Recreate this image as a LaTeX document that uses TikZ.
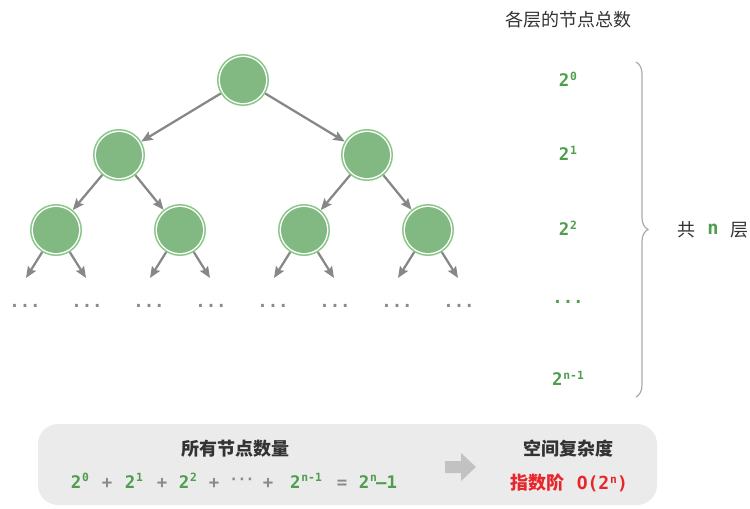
\documentclass[tikz,border=0pt]{standalone}
\usepackage{fontspec}
\setmainfont{Noto Sans CJK SC}
\newfontfamily\cjk{Noto Sans CJK SC}
\newfontfamily\mono{DejaVu Sans Mono}
\usetikzlibrary{arrows.meta,decorations.pathreplacing}
\definecolor{nodegreen}{HTML}{82B982}
\definecolor{ringgreen}{HTML}{8CC88C}
\definecolor{txtgreen}{HTML}{4E9E4E}
\definecolor{edgegray}{HTML}{878787}
\definecolor{dotgray}{HTML}{8A8A8A}
\definecolor{txtdark}{HTML}{333333}
\definecolor{boxgray}{HTML}{EBEBEB}
\definecolor{arrgray}{HTML}{C2C2C2}
\definecolor{bracegray}{HTML}{AAAAAA}
\definecolor{txtred}{HTML}{E8262A}
\newcommand\sps[1]{\kern0.05em\raisebox{0.36em}{\fontsize{8.5}{9}\selectfont #1}}
\begin{document}
\begin{tikzpicture}[x=0.75pt,y=-0.75pt,
  tn/.style={circle, draw=ringgreen, line width=1.125pt, fill=white,
    minimum size=37.9pt, inner sep=0pt,
    path picture={\fill[nodegreen] (path picture bounding box.center) circle (17.25pt);}},
  edg/.style={draw=edgegray, line width=1.7pt, -{Stealth[length=8.5pt,width=7pt,inset=1.5pt]}},
  leafdots/.style={font=\mono\bfseries\fontsize{13}{13}\selectfont, text=dotgray, inner sep=0pt},
  head/.style={font=\cjk\fontsize{13.5}{14}\selectfont, text=txtdark, inner sep=0pt},
  headb/.style={font=\cjk\bfseries\fontsize{13.5}{14}\selectfont, text=txtdark, inner sep=0pt},
  lvl/.style={font=\mono\bfseries\fontsize{13}{14}\selectfont, text=txtgreen, inner sep=0pt},
  frm/.style={font=\mono\bfseries\fontsize{13}{14}\selectfont, inner sep=0pt, anchor=base},
]
\useasboundingbox (0,0) rectangle (750,508);
% tree
\node[tn] (r) at (243,80) {};
\node[tn] (a) at (119,155) {};
\node[tn] (b) at (367,155) {};
\node[tn] (a1) at (56,230) {};
\node[tn] (a2) at (180,230) {};
\node[tn] (b1) at (304,230) {};
\node[tn] (b2) at (428,230) {};
\draw[edg] (r) -- (a);
\draw[edg] (r) -- (b);
\draw[edg] (a) -- (a1);
\draw[edg] (a) -- (a2);
\draw[edg] (b) -- (b1);
\draw[edg] (b) -- (b2);
\foreach \n/\x in {a1/56,a2/180,b1/304,b2/428}{
  \coordinate (\n L) at (\x-30,278);
  \coordinate (\n R) at (\x+30,278);
  \draw[edg] (\n) -- (\n L);
  \draw[edg] (\n) -- (\n R);
}
\foreach \i/\x in {1/25,2/87,3/149,4/211,5/273,6/335,7/397,8/459}{
  \node[leafdots] (d\i) at (\x,306) {...};
}
% right column
\node[head] (hdr) at (568,20) {各层的节点总数};
\node[lvl] (l0) at (568,79) {2\sps{0}};
\node[lvl] (l1) at (568,153) {2\sps{1}};
\node[lvl] (l2) at (568,228) {2\sps{2}};
\node[lvl] (l3) at (568,302) {...};
\node[lvl] (l4) at (568,378) {2\sps{n-1}};
\draw[bracegray, line width=0.9pt, decorate, decoration={brace, amplitude=9pt}] (636,62) -- (636,397);
\node[head, anchor=center] (gong) at (686,230) {共};
\node[lvl, font=\mono\bfseries\fontsize{14}{14}\selectfont] (nn) at (713,229) {n};
\node[head] (ceng) at (739,230) {层};
% bottom box
\fill[boxgray, rounded corners=15pt] (38,424) rectangle (657,505);
\node[headb] (all) at (235,449) {所有节点数量};
\node[frm, text=txtgreen] (t1) at (80,488) {2\sps{0}};
\node[frm, text=dotgray] (p1) at (107,488) {+};
\node[frm, text=txtgreen] (t2) at (134,488) {2\sps{1}};
\node[frm, text=dotgray] (p2) at (162,488) {+};
\node[frm, text=txtgreen] (t3) at (188,488) {2\sps{2}};
\node[frm, text=dotgray] (p3) at (214,488) {+};
\node[frm, text=dotgray] (cd) at (242,488) {{\fontsize{11}{11}\selectfont\raisebox{0.25em}{·\kern-0.05em·\kern-0.05em·}}};
\node[frm, text=dotgray] (p4) at (268,488) {+};
\node[frm, text=txtgreen] (t4) at (306,488) {2\sps{n-1}};
\node[frm, text=dotgray] (eq) at (342,488) {=};
\node[frm, text=txtgreen] (t5) at (378,488) {2\sps{n}\kern-0.05em–1};
\fill[arrgray] (445,461) -- (461,461) -- (461,453) -- (476,467) -- (461,481) -- (461,473) -- (445,473) -- cycle;
\node[headb] (sc) at (568,449) {空间复杂度};
\node[font=\cjk\bfseries\fontsize{13.5}{14}\selectfont, text=txtred, inner sep=0pt] (exp) at (569,483) {指数阶\hspace{0.7em}{\mono\bfseries\fontsize{13.5}{14}\selectfont O(2\sps{n})}};
\end{tikzpicture}
\end{document}
